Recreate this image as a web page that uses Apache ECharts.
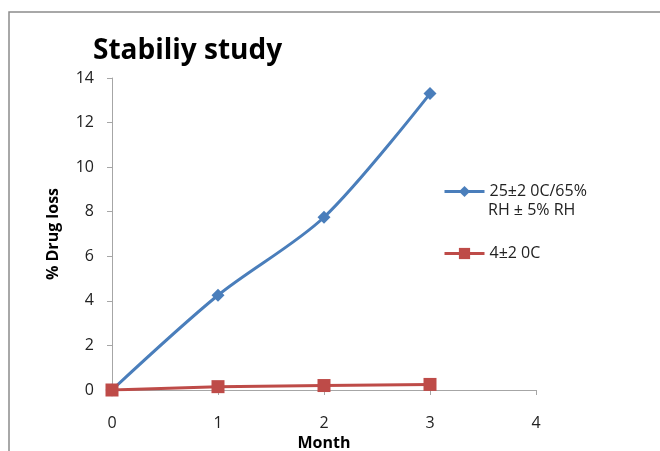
<!DOCTYPE html>
<html><head><meta charset="utf-8">
<script src="https://cdn.jsdelivr.net/npm/echarts@6/dist/echarts.min.js"></script>
<style>html,body{margin:0;padding:0;background:#fff;}#c{width:660px;height:451px;}</style>
</head><body><div id="c"></div>
<script>
var months = [0, 1, 2, 3];
var seriesNames = ['25±2 0C/65%\nRH ± 5% RH', '4±2 0C'];
var accelerated = [0, 4.25, 7.75, 13.3];
var refrigerated = [0, 0.15, 0.2, 0.25];
var yTicks = [0, 2, 4, 6, 8, 10, 12, 14];

function pairs(xs, ys){ return xs.map(function(x,i){return [x, ys[i]];}); }

var chart = echarts.init(document.getElementById('c'));
var font = 'Open Sans';
var legendLeft = 438, legendItemW = 40, legendTop = 176, legendPad = 5;
chart.setOption({
  animation: false,
  backgroundColor: '#fff',
  graphic: [{
    type: 'rect', shape: {x: 9, y: 12, width: 700, height: 500},
    style: {fill: 'none', stroke: '#8c8c8c', lineWidth: 1.5}
  }, {
    type: 'text', left: legendLeft + legendPad + legendItemW + 5, top: legendTop + legendPad + 21,
    style: {text: seriesNames[0].split('\n')[1], font: '16px "Open Sans"', fill: '#222'}
  }],
  title: {
    text: 'Stabiliy study', left: 88, top: 32,
    textStyle: {fontFamily: font, fontWeight: 'bold', fontSize: 28, color: '#000'}
  },
  legend: {
    orient: 'vertical', left: legendLeft, top: legendTop, padding: legendPad,
    itemWidth: legendItemW, itemHeight: 14, itemGap: 41,
    data: seriesNames,
    lineStyle: {width: 3},
    formatter: function(n){ return n.split('\n')[0]; },
    textStyle: {fontFamily: font, fontSize: 16, color: '#222', lineHeight: 21}
  },
  grid: {left: 112, top: 78, width: 424, height: 312, containLabel: false, outerBoundsMode: 'none'},
  xAxis: {
    type: 'value', min: 0, max: 4, interval: 1,
    name: 'Month', nameLocation: 'middle', nameGap: 43,
    nameTextStyle: {fontFamily: font, fontWeight: 'bold', fontSize: 16, color: '#000'},
    axisLine: {lineStyle: {color: '#a6a6a6'}},
    axisTick: {show: true, length: 5, lineStyle: {color: '#a6a6a6'}},
    axisLabel: {fontFamily: font, fontSize: 16, color: '#222', margin: 25},
    splitLine: {show: false}
  },
  yAxis: {
    type: 'value', min: 0, max: 14, interval: 2,
    name: '% Drug loss', nameLocation: 'middle', nameGap: 51,
    nameTextStyle: {fontFamily: font, fontWeight: 'bold', fontSize: 16, color: '#000'},
    axisLine: {show: true, lineStyle: {color: '#a6a6a6'}},
    axisTick: {show: true, length: 5, lineStyle: {color: '#a6a6a6'}},
    axisLabel: {fontFamily: font, fontSize: 16, color: '#222', margin: 18,
      formatter: function(v){ return yTicks.indexOf(v) >= 0 ? String(v) : ''; }},
    splitLine: {show: false}
  },
  series: [{
    name: seriesNames[0], type: 'line', smooth: 0.3,
    data: pairs(months, accelerated),
    symbol: 'diamond', symbolSize: 13,
    lineStyle: {color: '#4a7ebb', width: 3},
    itemStyle: {color: '#4a7ebb'}
  }, {
    name: seriesNames[1], type: 'line',
    data: pairs(months, refrigerated),
    symbol: 'rect', symbolSize: 13,
    lineStyle: {color: '#be4b48', width: 3},
    itemStyle: {color: '#be4b48'}
  }]
});
</script></body></html>
